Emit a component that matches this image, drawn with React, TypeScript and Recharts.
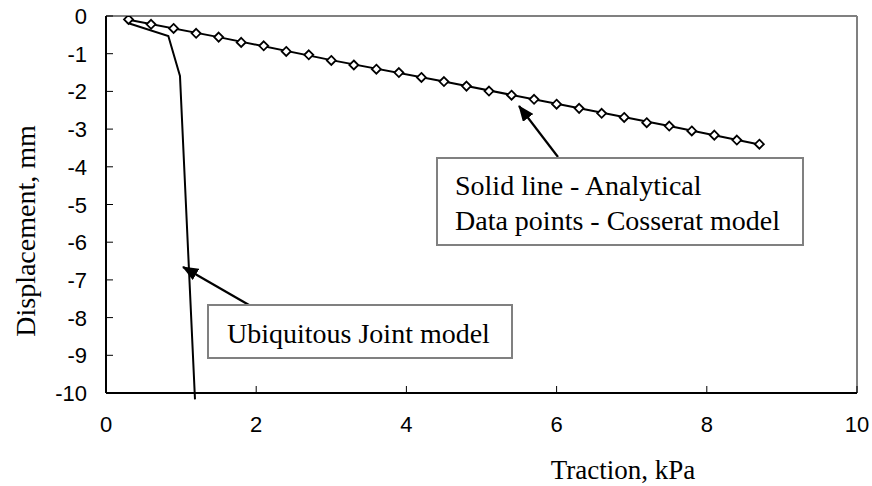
import React from 'react';
import {
  ComposedChart,
  Line,
  Scatter,
  XAxis,
  YAxis,
  ReferenceLine
} from 'recharts';

// Cosserat model (data points)
const cosseratX = [
  0.3, 0.6, 0.9, 1.2, 1.5, 1.8, 2.1, 2.4, 2.7, 3.0, 3.3, 3.6, 3.9, 4.2, 4.5,
  4.8, 5.1, 5.4, 5.7, 6.0, 6.3, 6.6, 6.9, 7.2, 7.5, 7.8, 8.1, 8.4, 8.7
];
const cosseratY = [
  -0.09, -0.22, -0.33, -0.46, -0.56, -0.70, -0.79, -0.94, -1.03, -1.18, -1.30,
  -1.41, -1.50, -1.63, -1.74, -1.86, -1.99, -2.10, -2.21, -2.34, -2.45, -2.58,
  -2.69, -2.83, -2.92, -3.05, -3.16, -3.29, -3.40
];

// Analytical solution (solid line)
const analyticalX = [0.3, 1.5, 3.0, 4.5, 6.0, 7.5, 8.7];
const analyticalY = [-0.1, -0.56, -1.17, -1.74, -2.33, -2.92, -3.41];

// Ubiquitous Joint model
const ujmX = [0.28, 0.83, 0.985, 1.185];
const ujmY = [-0.18, -0.53, -1.59, -10.17];

const xTicks = [0, 2, 4, 6, 8, 10];
const yTicks = [0, -1, -2, -3, -4, -5, -6, -7, -8, -9, -10];

const toPoints = (xs: number[], ys: number[]) => xs.map((x, i) => ({ x, y: ys[i] }));

const cosserat = toPoints(cosseratX, cosseratY);
const analytical = toPoints(analyticalX, analyticalY);
const ujm = toPoints(ujmX, ujmY);

const serif = '"Liberation Serif", "Times New Roman", serif';
const sans = '"Liberation Sans", Arial, sans-serif';

const XTick = (props: any) => {
  const { x, y, payload } = props;
  return (
    <g>
      <line x1={x} y1={y} x2={x} y2={y - 7} stroke="#000" strokeWidth={1} />
      <text x={x} y={y + 39} textAnchor="middle" fontSize={22} fontFamily={sans} fill="#000">
        {payload.value}
      </text>
    </g>
  );
};

const YTick = (props: any) => {
  const { x, y, payload } = props;
  return (
    <g>
      <line x1={x} y1={y} x2={x + 7} y2={y} stroke="#000" strokeWidth={1} />
      <text x={x - 19} y={y + 8} textAnchor="end" fontSize={22} fontFamily={sans} fill="#000">
        {payload.value}
      </text>
    </g>
  );
};

const Diamond = (props: any) => {
  const { cx, cy } = props;
  const r = 4.5;
  return (
    <polygon
      points={`${cx},${cy - r} ${cx + r},${cy} ${cx},${cy + r} ${cx - r},${cy}`}
      fill="#fff"
      stroke="#000"
      strokeWidth={1.8}
    />
  );
};

const App: React.FC = () => {
  return (
    <div style={{ position: 'relative', width: 872, height: 486, background: '#fff' }}>
      <style>{'body{margin:0} .ujm-line, .ujm-line * { clip-path: none !important; }'}</style>
      <ComposedChart
        width={872}
        height={486}
        margin={{ top: 16, right: 15, bottom: 0, left: 0 }}
      >
        <XAxis
          type="number"
          dataKey="x"
          domain={[0, 10]}
          ticks={xTicks}
          height={93}
          tickSize={0}
          tickMargin={0}
          tickLine={false}
          tick={<XTick />}
          axisLine={{ stroke: '#000', strokeWidth: 2 }}
        />
        <YAxis
          type="number"
          domain={[-10, 0]}
          ticks={yTicks}
          width={106}
          allowDataOverflow
          tickSize={0}
          tickMargin={0}
          tickLine={false}
          tick={<YTick />}
          axisLine={{ stroke: '#000', strokeWidth: 2 }}
        />

        {/* plot area border, top and right */}
        <ReferenceLine y={0} stroke="#808080" strokeWidth={2} />
        <ReferenceLine x={10} stroke="#808080" strokeWidth={2} />

        <Line
          data={analytical}
          dataKey="y"
          stroke="#000"
          strokeWidth={2}
          dot={false}
          isAnimationActive={false}
        />
        <Line
          className="ujm-line"
          data={ujm}
          dataKey="y"
          stroke="#000"
          strokeWidth={2}
          dot={false}
          isAnimationActive={false}
        />
        <Scatter
          data={cosserat}
          dataKey="y"
          shape={<Diamond />}
          isAnimationActive={false}
        />
      </ComposedChart>

      {/* annotations and axis titles */}
      <svg
        width={872}
        height={486}
        style={{ position: 'absolute', left: 0, top: 0, pointerEvents: 'none' }}
      >
        <defs>
          <marker
            id="arrowHead"
            markerUnits="userSpaceOnUse"
            markerWidth={16}
            markerHeight={13}
            refX={15}
            refY={6.5}
            orient="auto"
          >
            <path d="M0,0 L16,6.5 L0,13 z" fill="#000" />
          </marker>
        </defs>

        <line x1={558} y1={157} x2={519} y2={106} stroke="#000" strokeWidth={2.2} markerEnd="url(#arrowHead)" />
        <rect x={437} y={158} width={366} height={87} fill="#fff" stroke="#808080" strokeWidth={2} />
        <text x={455} y={195} fontSize={28} fontFamily={serif} fill="#000">Solid line - Analytical</text>
        <text x={455} y={230} fontSize={28} fontFamily={serif} fill="#000">Data points - Cosserat model</text>

        <line x1={249} y1={305} x2={183} y2={267} stroke="#000" strokeWidth={2.2} markerEnd="url(#arrowHead)" />
        <rect x={208} y={305} width={304} height={53} fill="#fff" stroke="#808080" strokeWidth={2} />
        <text x={227} y={343} fontSize={28} fontFamily={serif} fill="#000">Ubiquitous Joint model</text>

        <text
          x={0}
          y={0}
          transform="translate(35,231) rotate(-90)"
          textAnchor="middle"
          fontSize={28}
          fontFamily={serif}
          fill="#000"
        >
          Displacement, mm
        </text>
        <text x={623} y={479} textAnchor="middle" fontSize={27} fontFamily={serif} fill="#000">
          Traction, kPa
        </text>
      </svg>
    </div>
  );
};

export default App;
